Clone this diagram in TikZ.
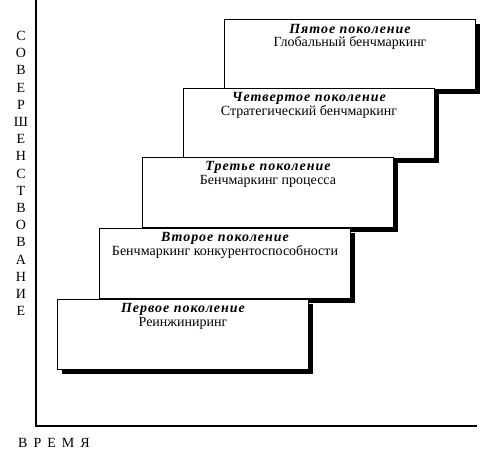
\documentclass[tikz,border=0pt]{standalone}
\usepackage{fontspec}
\setmainfont{Liberation Serif}
\begin{document}
\begin{tikzpicture}[x=1pt,y=-1pt,
  stage/.style={draw=black,line width=1pt,fill=white,minimum width=251pt,minimum height=70pt,inner sep=0pt,anchor=north west},
  shadowbox/.style={fill=black,minimum width=251pt,minimum height=70pt,inner sep=0pt,anchor=north west},
  title/.style={font=\fontsize{14}{16}\selectfont\bfseries\itshape\addfontfeatures{LetterSpace=7},anchor=center,inner sep=0pt},
  sub/.style={font=\fontsize{14}{16}\selectfont,anchor=center,inner sep=0pt},
  axis/.style={line width=1.6pt}]
\useasboundingbox (0,0) rectangle (489,461);
% axes
\coordinate (otop) at (36,0);
\coordinate (o) at (36,426);
\coordinate (xend) at (477,426);
\draw[axis] (otop) -- (o) -- (xend);
% boxes from top to bottom so lower ones overlap shadows of upper ones
\foreach \i/\x/\y in {5/224/19,4/183/88,3/142/157,2/99/228,1/57/299}{
  \node[shadowbox] (s\i) at (\x+5,\y+5) {};
  \node[stage] (b\i) at (\x,\y) {};
}
\node[title] (t5) at ([shift={(0,10)}]b5.north) {Пятое поколение};
\node[sub] (u5) at ([shift={(0,24)}]b5.north) {Глобальный бенчмаркинг};
\node[title] (t4) at ([shift={(0,10)}]b4.north) {Четвертое поколение};
\node[sub] (u4) at ([shift={(0,24)}]b4.north) {Стратегический бенчмаркинг};
\node[title] (t3) at ([shift={(0,10)}]b3.north) {Третье поколение};
\node[sub] (u3) at ([shift={(0,24)}]b3.north) {Бенчмаркинг процесса};
\node[title] (t2) at ([shift={(0,10)}]b2.north) {Второе поколение};
\node[sub] (u2) at ([shift={(0,24)}]b2.north) {Бенчмаркинг конкурентоспособности};
\node[title] (t1) at ([shift={(0,10)}]b1.north) {Первое поколение};
\node[sub] (u1) at ([shift={(0,24)}]b1.north) {Реинжиниринг};
% axis labels
\node[font=\fontsize{14}{17.2}\selectfont,align=center,anchor=north,inner sep=0pt] (ylab) at (21,31)
  {С\\О\\В\\Е\\Р\\Ш\\Е\\Н\\С\\Т\\В\\О\\В\\А\\Н\\И\\Е};
\node[font=\fontsize{14}{16}\selectfont,anchor=west,inner sep=0pt] (xlab) at (18,443) {В\hspace{6pt}Р\hspace{6pt}Е\hspace{6pt}М\hspace{6pt}Я};
\end{tikzpicture}
\end{document}
